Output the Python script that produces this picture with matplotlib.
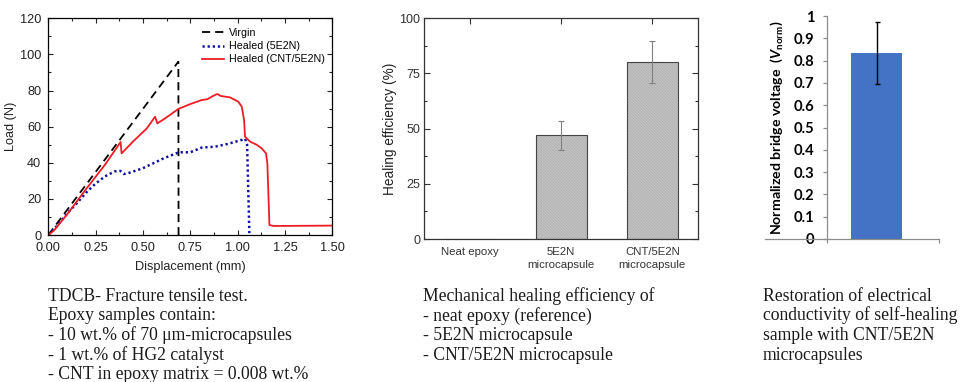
import numpy as np
import matplotlib
matplotlib.use("Agg")
import matplotlib.pyplot as plt
from matplotlib.ticker import MultipleLocator, FormatStrFormatter

# ---- TDCB fracture test: displacement (mm) vs load (N) ----
virgin_disp = [0.0, 0.687, 0.688]
virgin_load = [0.0, 96.0, 0.0]

healed_5e2n_disp = [0.0, 0.05, 0.10, 0.15, 0.20, 0.25, 0.30, 0.35, 0.38, 0.40,
                    0.43, 0.50, 0.57, 0.61, 0.69, 0.75, 0.81, 0.88, 0.95, 1.04,
                    1.05, 1.062]
healed_5e2n_load = [0.0, 5.5, 12.0, 17.5, 23.5, 28.5, 32.5, 35.2, 35.5, 33.8,
                    34.5, 37.0, 40.5, 42.5, 45.8, 45.8, 48.4, 48.9, 50.5, 53.2,
                    50.0, 1.0]

healed_cnt_disp = [0.0, 0.03, 0.10, 0.20, 0.30, 0.382, 0.387, 0.45, 0.52, 0.564,
                   0.576, 0.62, 0.687, 0.75, 0.81, 0.84, 0.87, 0.893, 0.91, 0.96,
                   1.004, 1.022, 1.034, 1.039, 1.066, 1.10, 1.127, 1.15, 1.157,
                   1.168, 1.19, 1.50]
healed_cnt_load = [0.0, 2.5, 11.5, 25.5, 39.0, 51.5, 45.2, 52.0, 59.0, 65.5,
                   61.8, 64.8, 69.8, 72.5, 74.7, 75.2, 77.0, 78.1, 77.0, 76.2,
                   73.8, 71.0, 63.7, 54.4, 51.7, 50.0, 48.0, 45.2, 39.7,
                   5.5, 5.0, 5.2]

# ---- Mechanical healing efficiency ----
heal_categories = ["Neat epoxy", "5E2N\nmicrocapsule", "CNT/5E2N\nmicrocapsule"]
heal_efficiency = [0.0, 47.0, 80.0]
heal_error = [0.0, 6.5, 9.5]

# ---- Electrical restoration ----
bridge_voltage = [0.835]
bridge_error = [0.138]
voltage_ticks = [0.0, 0.1, 0.2, 0.3, 0.4, 0.5, 0.6, 0.7, 0.8, 0.9, 1.0]
voltage_ticklabels = ["0", "0.1", "0.2", "0.3", "0.4", "0.5", "0.6", "0.7",
                      "0.8", "0.9", "1"]

# ---- Captions ----
caption_left = ["TDCB- Fracture tensile test.",
                "Epoxy samples contain:",
                "- 10 wt.% of 70 \u03bcm-microcapsules",
                "- 1 wt.% of HG2 catalyst",
                "- CNT in epoxy matrix = 0.008 wt.%"]
caption_mid = ["Mechanical healing efficiency of",
               "- neat epoxy (reference)",
               "- 5E2N microcapsule",
               "- CNT/5E2N microcapsule"]
caption_right = ["Restoration of electrical",
                 "conductivity of self-healing",
                 "sample with CNT/5E2N",
                 "microcapsules"]

plt.rcParams["font.family"] = ["Liberation Sans", "DejaVu Sans"]
plt.rcParams["mathtext.fontset"] = "custom"
plt.rcParams["mathtext.it"] = "Lato:italic:bold"
plt.rcParams["mathtext.rm"] = "Lato:bold"
plt.rcParams["mathtext.bf"] = "Lato:bold"
plt.rcParams["hatch.linewidth"] = 0.55

W, H = 962, 382
fig = plt.figure(figsize=(W / 100, H / 100), dpi=100)


def axes_px(left, top, right, bottom):
    return fig.add_axes([left / W, 1 - bottom / H, (right - left) / W, (bottom - top) / H])


# ---------------- Panel 1: load-displacement ----------------
ax1 = axes_px(48.3, 18.3, 332.3, 235)
ax1.plot(virgin_disp, virgin_load, color="black", lw=1.3,
         linestyle=(0, (4.5, 2.8)), label="Virgin")
ax1.plot(healed_5e2n_disp, healed_5e2n_load, color="#1010a0", lw=1.8,
         linestyle=(0, (0.9, 1.15)), label="Healed (5E2N)")
ax1.plot(healed_cnt_disp, healed_cnt_load, color="#ee1c24", lw=1.3,
         label="Healed (CNT/5E2N)")
ax1.set_xlim(0, 1.5)
ax1.set_ylim(0, 120)
ax1.xaxis.set_major_locator(MultipleLocator(0.25))
ax1.xaxis.set_minor_locator(MultipleLocator(0.125))
ax1.yaxis.set_major_locator(MultipleLocator(20))
ax1.yaxis.set_minor_locator(MultipleLocator(10))
ax1.xaxis.set_major_formatter(FormatStrFormatter("%.2f"))
ax1.tick_params(which="both", direction="in", top=True, right=True, labelsize=9.2,
                colors="#222222")
ax1.tick_params(which="major", length=3.5, width=0.8)
ax1.tick_params(which="minor", length=2, width=0.8)
ax1.tick_params(axis="y", pad=5)
ax1.tick_params(axis="x", pad=5)
for s in ax1.spines.values():
    s.set_linewidth(0.9)
ax1.set_xlabel("Displacement (mm)", fontsize=9.2, color="#222222")
ax1.set_ylabel("Load (N)", fontsize=9.2, color="#222222")
ax1.xaxis.set_label_coords(0.5, -0.12)
ax1.yaxis.set_label_coords(-0.11, 0.5)
ax1.legend(loc="upper left", bbox_to_anchor=(0.54, 0.955), frameon=False,
           fontsize=7.7, handlelength=2.1, handletextpad=0.45,
           labelspacing=0.3, borderpad=0, borderaxespad=0)

# ---------------- Panel 2: healing efficiency ----------------
ax2 = axes_px(424.3, 18.3, 698, 239)
x = np.arange(len(heal_categories))
# light hatch fill, then a dark outline on top
ax2.bar(x, heal_efficiency, width=0.56, facecolor="white", edgecolor="#a0a0a0",
        hatch="\\" * 22, linewidth=0, zorder=2)
ax2.bar(x, heal_efficiency, width=0.56, facecolor="none", edgecolor="#444444",
        linewidth=0.8, zorder=2.5)
for i in range(len(x)):
    if heal_efficiency[i] > 0:
        ax2.errorbar(x[i], heal_efficiency[i], yerr=heal_error[i], color="#808080",
                     lw=0.8, capsize=2, capthick=0.8, zorder=3)
ax2.set_xlim(-0.5, 2.5)
ax2.set_ylim(0, 100)
ax2.set_xticks(x)
ax2.set_xticklabels(heal_categories, fontsize=8.2, color="#222222", linespacing=1.35)
ax2.yaxis.set_major_locator(MultipleLocator(25))
ax2.yaxis.set_minor_locator(MultipleLocator(12.5))
ax2.tick_params(which="both", direction="in", top=True, right=True, colors="#333333")
ax2.tick_params(axis="x", which="major", length=4, width=0.8, pad=6, bottom=False)
ax2.tick_params(axis="y", which="major", length=4.3, width=0.8, pad=3, labelsize=9)
ax2.tick_params(axis="y", which="minor", length=2.2, width=0.8)
for s in ax2.spines.values():
    s.set_linewidth(0.9)
    s.set_color("#333333")
ax2.set_ylabel("Healing efficiency (%)", fontsize=9.8, color="#222222")
ax2.yaxis.set_label_coords(-0.1, 0.5)

# ---------------- Panel 3: bridge voltage ----------------
ax3 = axes_px(765, 16, 939, 239)
ax3.bar([0], bridge_voltage, width=0.455, color="#4472c4", zorder=2)
ax3.errorbar([0], bridge_voltage, yerr=bridge_error, color="black", lw=1.0,
             capsize=1.8, capthick=1.0, zorder=3)
ax3.set_xlim(-0.996, 0.558)
ax3.set_ylim(0, 1)
for side in ("top", "right"):
    ax3.spines[side].set_visible(False)
ax3.spines["left"].set_position(("data", -0.442))
ax3.spines["left"].set_color("#8c8c8c")
ax3.spines["bottom"].set_color("#8c8c8c")
ax3.spines["left"].set_linewidth(0.9)
ax3.spines["bottom"].set_linewidth(0.9)
ax3.set_yticks(voltage_ticks)
ax3.set_yticklabels(voltage_ticklabels, fontsize=10.6, fontweight="bold",
                    family=["Lato", "DejaVu Sans"])
ax3.set_xticks([-0.442, 0.558])
ax3.set_xticklabels([])
ax3.tick_params(axis="y", direction="out", length=3, width=0.9, pad=6,
                color="#8c8c8c", labelcolor="black")
ax3.tick_params(axis="x", direction="out", length=3, width=0.9, color="#8c8c8c")
ax3.set_ylabel("Normalized bridge voltage  ($V_{\\mathrm{norm}}$)", fontsize=10.2,
               fontweight="bold", family=["Lato", "DejaVu Sans"])
ax3.yaxis.set_label_coords(0.115, 0.5)

# ---------------- Captions ----------------
serif = ["Liberation Serif", "DejaVu Serif"]
for col_x, lines in ((48, caption_left), (423, caption_mid), (763, caption_right)):
    for i, line in enumerate(lines):
        fig.text(col_x / W, 1 - (301 + 19.5 * i) / H, line, fontsize=12.7,
                 family=serif, va="baseline", ha="left", color="#1a1a1a")

fig.savefig("out.png", dpi=100)
